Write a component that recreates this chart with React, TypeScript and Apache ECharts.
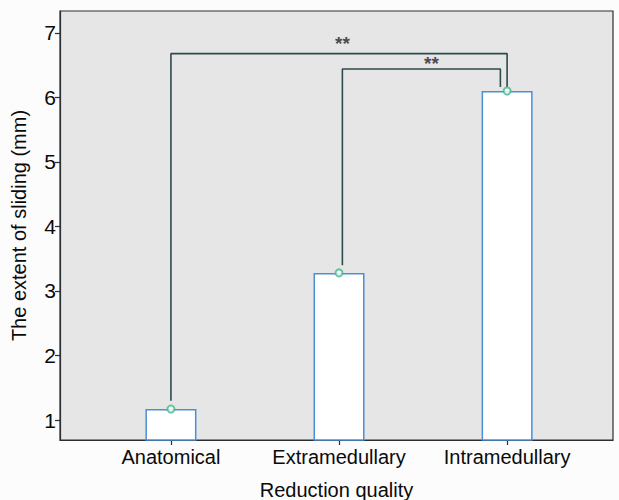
import React, { useEffect, useRef } from "react";
import * as echarts from "echarts";

const categories = ["Anatomical", "Extramedullary", "Intramedullary"];
const means = [1.17, 3.28, 6.1];
const yTicks = [1, 2, 3, 4, 5, 6, 7];
// bracket 1: Anatomical vs Intramedullary
const bracket1 = [
  [0, 1.3],
  [0, 6.68],
  [2, 6.68],
  [2, 6.16],
];
// bracket 2: Extramedullary vs Intramedullary
const bracket2 = [
  [1.02, 3.4],
  [1.02, 6.44],
  [1.96, 6.44],
  [1.96, 6.16],
];
const starLabels = [
  { x: 1.02, y: 6.83, text: "**" },
  { x: 1.55, y: 6.53, text: "**" },
];

const FONT = "Liberation Sans, Arial, sans-serif";

export default function App() {
  const ref = useRef<HTMLDivElement>(null);
  useEffect(() => {
    if (!ref.current) return;
    const chart = echarts.init(ref.current, null, { renderer: "svg" });
    const lineColor = "#2d4a4c";
    chart.setOption({
      animation: false,
      backgroundColor: "#fcfcfd",
      grid: {
        left: 60,
        top: 11,
        right: 6,
        bottom: 60,
        outerBoundsMode: "none",
        show: true,
        backgroundColor: "#e6e6e6",
        borderColor: "#2a2f33",
        borderWidth: 1.2,
      },
      xAxis: {
        type: "value",
        min: -0.66,
        max: 2.63,
        name: "Reduction quality",
        nameLocation: "middle",
        nameGap: 40,
        nameTextStyle: { fontFamily: FONT, fontSize: 20, color: "#0a0a0a" },
        axisLine: { show: true, onZero: false, lineStyle: { color: "#2a2f33", width: 1.2 } },
        axisTick: {
          show: true,
          length: 5,
          customValues: [0, 1, 2],
          lineStyle: { color: "#2a2f33", width: 1.2 },
        },
        axisLabel: {
          customValues: [0, 1, 2],
          formatter: (v: number) => categories[Math.round(v)] ?? "",
          fontFamily: FONT,
          fontSize: 20,
          color: "#0a0a0a",
          margin: 7,
        },
        splitLine: { show: false },
      },
      yAxis: {
        type: "value",
        min: 0.69,
        max: 7.34,
        name: "The extent of sliding (mm)",
        nameLocation: "middle",
        nameGap: 31,
        nameTextStyle: { fontFamily: FONT, fontSize: 20, color: "#0a0a0a" },
        axisLine: { show: true, onZero: false, lineStyle: { color: "#2a2f33", width: 1.2 } },
        axisTick: {
          show: true,
          length: 5,
          customValues: yTicks,
          lineStyle: { color: "#2a2f33", width: 1.2 },
        },
        axisLabel: {
          customValues: yTicks,
          fontFamily: FONT,
          fontSize: 21,
          color: "#0a0a0a",
          margin: 4,
        },
        splitLine: { show: false },
      },
      series: [
        {
          type: "bar",
          data: means.map((v, i) => [i, v]),
          barWidth: 51,
          itemStyle: { color: "#ffffff", borderColor: "#4a8fd6", borderWidth: 1.5 },
          z: 2,
        },
        {
          type: "line",
          data: bracket1,
          symbol: "none",
          lineStyle: { color: lineColor, width: 1.6 },
          z: 3,
        },
        {
          type: "line",
          data: bracket2,
          symbol: "none",
          lineStyle: { color: lineColor, width: 1.6 },
          z: 3,
        },
        {
          type: "scatter",
          data: means.map((v, i) => [i, v]),
          symbol: "emptyCircle",
          symbolSize: 7,
          itemStyle: { color: "#3dbb8c", borderWidth: 1.5 },
          z: 4,
        },
        {
          type: "scatter",
          data: starLabels.map((s) => ({ value: [s.x, s.y], label: { formatter: s.text } })),
          symbolSize: 0,
          label: {
            show: true,
            position: "inside",
            fontFamily: FONT,
            fontSize: 19,
            fontWeight: "bold",
            color: "#222",
          },
          z: 5,
        },
      ],
    });
    return () => chart.dispose();
  }, []);
  return (
    <div
      ref={ref}
      style={{ position: "fixed", left: 0, top: 0, width: 619, height: 500 }}
    />
  );
}
